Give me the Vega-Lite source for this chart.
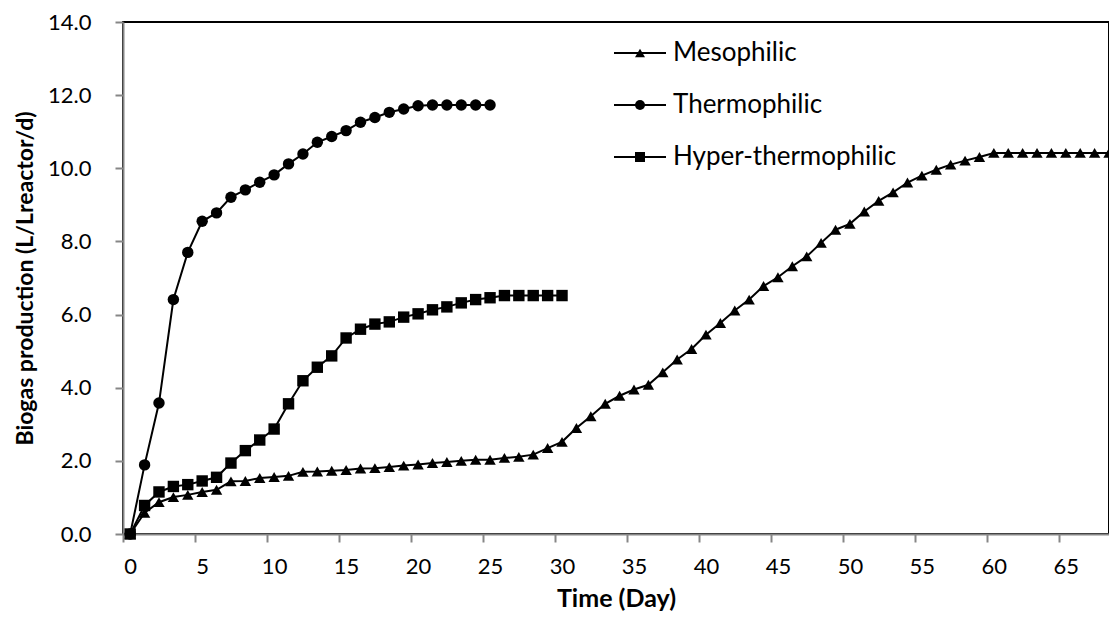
{
  "$schema": "https://vega.github.io/schema/vega-lite/v6.json",
  "width": 986,
  "height": 512,
  "autosize": {"type": "none"},
  "padding": {"left": 123, "top": 22, "right": 0, "bottom": 83},
  "background": "white",
  "config": {
    "view": {"stroke": "#000000", "strokeWidth": 2},
    "font": "Lato",
    "axis": {"labelFont": "Lato", "titleFont": "Lato", "labelColor": "#000000", "titleColor": "#000000", "domainColor": "#868686", "tickColor": "#868686", "domainWidth": 2, "tickWidth": 2, "grid": false},
    "legend": {"labelFont": "Lato", "labelColor": "#000000", "labelLimit": 500}
  },
  "data": {
    "values": [
      {"day": 0, "value": 0, "series": "Mesophilic"},
      {"day": 1, "value": 0.58, "series": "Mesophilic"},
      {"day": 2, "value": 0.87, "series": "Mesophilic"},
      {"day": 3, "value": 1.01, "series": "Mesophilic"},
      {"day": 4, "value": 1.07, "series": "Mesophilic"},
      {"day": 5, "value": 1.15, "series": "Mesophilic"},
      {"day": 6, "value": 1.21, "series": "Mesophilic"},
      {"day": 7, "value": 1.44, "series": "Mesophilic"},
      {"day": 8, "value": 1.45, "series": "Mesophilic"},
      {"day": 9, "value": 1.53, "series": "Mesophilic"},
      {"day": 10, "value": 1.56, "series": "Mesophilic"},
      {"day": 11, "value": 1.59, "series": "Mesophilic"},
      {"day": 12, "value": 1.70, "series": "Mesophilic"},
      {"day": 13, "value": 1.71, "series": "Mesophilic"},
      {"day": 14, "value": 1.73, "series": "Mesophilic"},
      {"day": 15, "value": 1.75, "series": "Mesophilic"},
      {"day": 16, "value": 1.79, "series": "Mesophilic"},
      {"day": 17, "value": 1.80, "series": "Mesophilic"},
      {"day": 18, "value": 1.83, "series": "Mesophilic"},
      {"day": 19, "value": 1.87, "series": "Mesophilic"},
      {"day": 20, "value": 1.90, "series": "Mesophilic"},
      {"day": 21, "value": 1.94, "series": "Mesophilic"},
      {"day": 22, "value": 1.97, "series": "Mesophilic"},
      {"day": 23, "value": 2.00, "series": "Mesophilic"},
      {"day": 24, "value": 2.03, "series": "Mesophilic"},
      {"day": 25, "value": 2.03, "series": "Mesophilic"},
      {"day": 26, "value": 2.08, "series": "Mesophilic"},
      {"day": 27, "value": 2.11, "series": "Mesophilic"},
      {"day": 28, "value": 2.17, "series": "Mesophilic"},
      {"day": 29, "value": 2.35, "series": "Mesophilic"},
      {"day": 30, "value": 2.52, "series": "Mesophilic"},
      {"day": 31, "value": 2.90, "series": "Mesophilic"},
      {"day": 32, "value": 3.22, "series": "Mesophilic"},
      {"day": 33, "value": 3.56, "series": "Mesophilic"},
      {"day": 34, "value": 3.78, "series": "Mesophilic"},
      {"day": 35, "value": 3.95, "series": "Mesophilic"},
      {"day": 36, "value": 4.08, "series": "Mesophilic"},
      {"day": 37, "value": 4.42, "series": "Mesophilic"},
      {"day": 38, "value": 4.77, "series": "Mesophilic"},
      {"day": 39, "value": 5.06, "series": "Mesophilic"},
      {"day": 40, "value": 5.45, "series": "Mesophilic"},
      {"day": 41, "value": 5.77, "series": "Mesophilic"},
      {"day": 42, "value": 6.11, "series": "Mesophilic"},
      {"day": 43, "value": 6.41, "series": "Mesophilic"},
      {"day": 44, "value": 6.78, "series": "Mesophilic"},
      {"day": 45, "value": 7.02, "series": "Mesophilic"},
      {"day": 46, "value": 7.32, "series": "Mesophilic"},
      {"day": 47, "value": 7.59, "series": "Mesophilic"},
      {"day": 48, "value": 7.96, "series": "Mesophilic"},
      {"day": 49, "value": 8.32, "series": "Mesophilic"},
      {"day": 50, "value": 8.48, "series": "Mesophilic"},
      {"day": 51, "value": 8.82, "series": "Mesophilic"},
      {"day": 52, "value": 9.11, "series": "Mesophilic"},
      {"day": 53, "value": 9.34, "series": "Mesophilic"},
      {"day": 54, "value": 9.61, "series": "Mesophilic"},
      {"day": 55, "value": 9.80, "series": "Mesophilic"},
      {"day": 56, "value": 9.96, "series": "Mesophilic"},
      {"day": 57, "value": 10.10, "series": "Mesophilic"},
      {"day": 58, "value": 10.21, "series": "Mesophilic"},
      {"day": 59, "value": 10.31, "series": "Mesophilic"},
      {"day": 60, "value": 10.42, "series": "Mesophilic"},
      {"day": 61, "value": 10.42, "series": "Mesophilic"},
      {"day": 62, "value": 10.42, "series": "Mesophilic"},
      {"day": 63, "value": 10.42, "series": "Mesophilic"},
      {"day": 64, "value": 10.42, "series": "Mesophilic"},
      {"day": 65, "value": 10.42, "series": "Mesophilic"},
      {"day": 66, "value": 10.42, "series": "Mesophilic"},
      {"day": 67, "value": 10.42, "series": "Mesophilic"},
      {"day": 68, "value": 10.42, "series": "Mesophilic"},
      {"day": 0, "value": 0, "series": "Thermophilic"},
      {"day": 1, "value": 1.89, "series": "Thermophilic"},
      {"day": 2, "value": 3.58, "series": "Thermophilic"},
      {"day": 3, "value": 6.41, "series": "Thermophilic"},
      {"day": 4, "value": 7.70, "series": "Thermophilic"},
      {"day": 5, "value": 8.55, "series": "Thermophilic"},
      {"day": 6, "value": 8.78, "series": "Thermophilic"},
      {"day": 7, "value": 9.21, "series": "Thermophilic"},
      {"day": 8, "value": 9.41, "series": "Thermophilic"},
      {"day": 9, "value": 9.62, "series": "Thermophilic"},
      {"day": 10, "value": 9.82, "series": "Thermophilic"},
      {"day": 11, "value": 10.12, "series": "Thermophilic"},
      {"day": 12, "value": 10.39, "series": "Thermophilic"},
      {"day": 13, "value": 10.71, "series": "Thermophilic"},
      {"day": 14, "value": 10.87, "series": "Thermophilic"},
      {"day": 15, "value": 11.03, "series": "Thermophilic"},
      {"day": 16, "value": 11.26, "series": "Thermophilic"},
      {"day": 17, "value": 11.39, "series": "Thermophilic"},
      {"day": 18, "value": 11.53, "series": "Thermophilic"},
      {"day": 19, "value": 11.62, "series": "Thermophilic"},
      {"day": 20, "value": 11.71, "series": "Thermophilic"},
      {"day": 21, "value": 11.73, "series": "Thermophilic"},
      {"day": 22, "value": 11.73, "series": "Thermophilic"},
      {"day": 23, "value": 11.73, "series": "Thermophilic"},
      {"day": 24, "value": 11.73, "series": "Thermophilic"},
      {"day": 25, "value": 11.73, "series": "Thermophilic"},
      {"day": 0, "value": 0, "series": "Hyper-thermophilic"},
      {"day": 1, "value": 0.78, "series": "Hyper-thermophilic"},
      {"day": 2, "value": 1.15, "series": "Hyper-thermophilic"},
      {"day": 3, "value": 1.30, "series": "Hyper-thermophilic"},
      {"day": 4, "value": 1.35, "series": "Hyper-thermophilic"},
      {"day": 5, "value": 1.45, "series": "Hyper-thermophilic"},
      {"day": 6, "value": 1.55, "series": "Hyper-thermophilic"},
      {"day": 7, "value": 1.94, "series": "Hyper-thermophilic"},
      {"day": 8, "value": 2.28, "series": "Hyper-thermophilic"},
      {"day": 9, "value": 2.57, "series": "Hyper-thermophilic"},
      {"day": 10, "value": 2.87, "series": "Hyper-thermophilic"},
      {"day": 11, "value": 3.56, "series": "Hyper-thermophilic"},
      {"day": 12, "value": 4.19, "series": "Hyper-thermophilic"},
      {"day": 13, "value": 4.56, "series": "Hyper-thermophilic"},
      {"day": 14, "value": 4.87, "series": "Hyper-thermophilic"},
      {"day": 15, "value": 5.36, "series": "Hyper-thermophilic"},
      {"day": 16, "value": 5.60, "series": "Hyper-thermophilic"},
      {"day": 17, "value": 5.74, "series": "Hyper-thermophilic"},
      {"day": 18, "value": 5.80, "series": "Hyper-thermophilic"},
      {"day": 19, "value": 5.93, "series": "Hyper-thermophilic"},
      {"day": 20, "value": 6.02, "series": "Hyper-thermophilic"},
      {"day": 21, "value": 6.13, "series": "Hyper-thermophilic"},
      {"day": 22, "value": 6.21, "series": "Hyper-thermophilic"},
      {"day": 23, "value": 6.32, "series": "Hyper-thermophilic"},
      {"day": 24, "value": 6.41, "series": "Hyper-thermophilic"},
      {"day": 25, "value": 6.46, "series": "Hyper-thermophilic"},
      {"day": 26, "value": 6.52, "series": "Hyper-thermophilic"},
      {"day": 27, "value": 6.52, "series": "Hyper-thermophilic"},
      {"day": 28, "value": 6.52, "series": "Hyper-thermophilic"},
      {"day": 29, "value": 6.52, "series": "Hyper-thermophilic"},
      {"day": 30, "value": 6.52, "series": "Hyper-thermophilic"}
    ]
  },
  "encoding": {
    "x": {
      "field": "day", "type": "quantitative",
      "scale": {"domain": [-0.5, 68], "nice": false, "zero": false},
      "axis": {
        "title": "Time (Day)", "titleFontSize": 25, "titleFontWeight": "bold", "titlePadding": 9,
        "values": [0, 5, 10, 15, 20, 25, 30, 35, 40, 45, 50, 55, 60, 65],
        "tickOffset": -7.2, "labelOffset": 7.2, "tickSize": 8,
        "labelFontSize": 22, "labelPadding": 14, "labelFlush": false
      }
    },
    "y": {
      "field": "value", "type": "quantitative",
      "scale": {"domain": [0, 14], "nice": false},
      "axis": {
        "title": "Biogas production (L/Lreactor/d)", "titleFontSize": 23, "titleFontWeight": "bold", "titlePadding": 10,
        "values": [0, 2, 4, 6, 8, 10, 12, 14], "format": ".1f",
        "tickSize": 8, "labelFontSize": 22, "labelPadding": 24
      }
    }
  },
  "layer": [
    {
      "mark": {"type": "line", "strokeWidth": 2},
      "encoding": {
        "color": {
          "field": "series", "type": "nominal",
          "scale": {"domain": ["Hyper-thermophilic", "Mesophilic", "Thermophilic"], "range": ["#000000", "#000000", "#000000"]},
          "legend": {
            "orient": "none", "legendX": 490, "legendY": 11, "padding": 0,
            "title": null, "symbolType": "stroke", "symbolSize": 2704, "symbolStrokeWidth": 2, "symbolStrokeColor": "#000000",
            "clipHeight": 40, "rowPadding": 12, "labelExpr": "''", "labelFontSize": 26
          }
        }
      }
    },
    {
      "mark": {"type": "point", "filled": true, "opacity": 1, "color": "#000000", "size": 130},
      "encoding": {
        "shape": {
          "field": "series", "type": "nominal",
          "scale": {"domain": ["Mesophilic", "Thermophilic", "Hyper-thermophilic"], "range": ["triangle-up", "circle", "square"]},
          "legend": {
            "orient": "none", "legendX": 504, "legendY": 11, "padding": 0,
            "title": null, "symbolSize": 100, "symbolFillColor": "#000000", "symbolStrokeWidth": 0, "symbolOpacity": 1,
            "clipHeight": 40, "rowPadding": 12, "labelOffset": 20, "labelFontSize": 26
          }
        }
      }
    }
  ]
}
